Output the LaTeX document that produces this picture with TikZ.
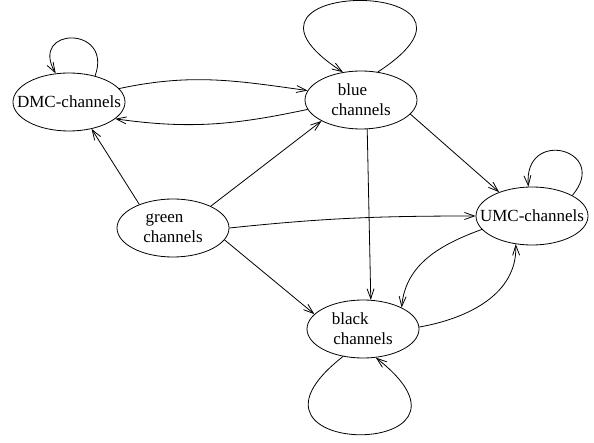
\documentclass[tikz,border=0pt]{standalone}
\usepackage{fontspec}
\setmainfont{Liberation Serif}
\usetikzlibrary{shapes.geometric,arrows.meta,positioning}

\begin{document}
\begin{tikzpicture}[->,>={Straight Barb[length=10pt,width=7pt]},thick,x=1pt,y=1pt,
  chan node/.style={ellipse,draw,minimum width=112pt,minimum height=58pt,
    inner xsep=-13pt,inner ysep=0pt,align=center,font=\fontsize{17}{20}\selectfont}]
  \useasboundingbox (0,0) rectangle (594,442);
   \node[chan node] (dmc)   at (69,340)  {DMC-channels};
   \node[chan node] (blue)  at (361,342) {blue\phantom{nn}\\channels};
   \node[chan node] (green) at (173,214) {green\phantom{nn}\\channels};
   \node[chan node] (umc)   at (532,226) {UMC-channels};
   \node[chan node] (black) at (363,113) {black\phantom{nnn}\\channels};
    \path
    (dmc.45)    edge [out=70,in=120,distance=54pt] (dmc.115)
    (dmc.15)    edge [out=12,in=172] (blue.170)
    (blue.190)  edge [out=192,in=-8] (dmc.-20)
    (blue.59)   edge [out=33,in=147,distance=175pt] (blue.123)
    (blue.-78)  edge (black.75)
    (blue.-16)  edge (umc.144)
    (green.145) edge (dmc.-50)
          (green.30)  edge (blue.208)
          (green.0)   edge [out=6,in=180] (umc.180)
          (green.-13) edge (black.163)
    (umc.27)    edge [out=50,in=95,distance=60pt] (umc.97)
    (umc.195)   edge [out=200,in=85] (black.29)
    (black.2)   edge [out=10,in=-88] (umc.240)
    (black.234) edge [out=218,in=-38,distance=168pt] (black.294);
\end{tikzpicture}
\end{document}
